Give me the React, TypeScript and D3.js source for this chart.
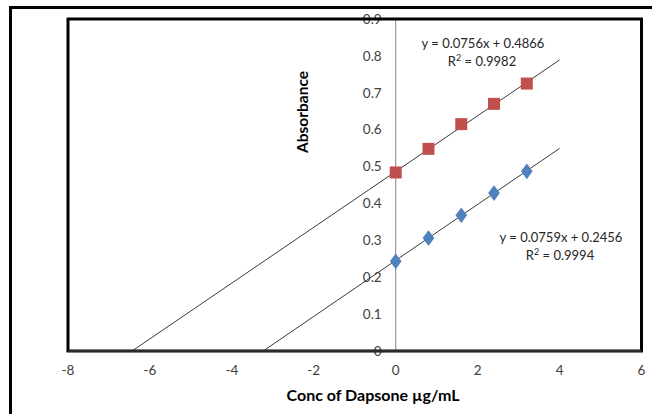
import React from "react";
import * as d3 from "d3";

const width = 652;
const height = 414;

// concentrations (µg/mL)
const conc = [0, 0.8, 1.6, 2.4, 3.2];
const seriesA = [0.484, 0.548, 0.615, 0.67, 0.725];
const seriesB = [0.243, 0.306, 0.368, 0.428, 0.487];

// trendline coefficients [slope, intercept], drawn from y = 0 to x = 4
const fitA = [0.0756, 0.4866];
const fitB = [0.0759, 0.2456];
const fitEnd = 4;

const xTicks = [-8, -6, -4, -2, 0, 2, 4, 6];
const yTicks = [0, 0.1, 0.2, 0.3, 0.4, 0.5, 0.6, 0.7, 0.8, 0.9];

const font = "Lato, 'Open Sans', sans-serif";

export default function App() {
  const x = d3.scaleLinear().domain([-8, 6]).range([68, 641.5]);
  const y = d3.scaleLinear().domain([0, 0.9]).range([351, 19]);

  const line = d3
    .line<[number, number]>()
    .x((d) => x(d[0]))
    .y((d) => y(d[1]));

  const trend = (fit: number[]): [number, number][] => {
    const x0 = -fit[1] / fit[0];
    return [
      [x0, 0],
      [fitEnd, fit[0] * fitEnd + fit[1]],
    ];
  };

  const diamond = d3.symbol().type(d3.symbolDiamond).size(70)();

  return (
    <svg
      width={width}
      height={height}
      style={{ position: "absolute", left: 0, top: 0, background: "#fff" }}
    >
      {/* y tick labels */}
      {yTicks.map((t) => (
        <text
          key={t}
          x={x(0) - 14}
          y={y(t)}
          dy="0.35em"
          textAnchor="end"
          fontFamily={font}
          fontSize={13.5}
          fill="#404040"
        >
          {t === 0 ? "0" : d3.format(".1f")(t)}
        </text>
      ))}
      {/* x tick labels */}
      {xTicks.map((t) => (
        <text
          key={t}
          x={x(t)}
          y={370}
          dy="0.35em"
          textAnchor="middle"
          fontFamily={font}
          fontSize={13.5}
          fill="#404040"
        >
          {t}
        </text>
      ))}

      {/* vertical axis at x = 0 */}
      <line x1={x(0)} x2={x(0)} y1={y(0.9)} y2={y(0)} stroke="#868686" strokeWidth={1} />

      {/* trendlines */}
      <path d={line(trend(fitA)) || ""} fill="none" stroke="#3a3a3a" strokeWidth={1} />
      <path d={line(trend(fitB)) || ""} fill="none" stroke="#3a3a3a" strokeWidth={1} />

      {/* markers */}
      {conc.map((c, i) => (
        <rect
          key={"a" + i}
          x={x(c) - 6}
          y={y(seriesA[i]) - 6}
          width={12}
          height={12}
          fill="#C0504D"
        />
      ))}
      {conc.map((c, i) => (
        <path
          key={"b" + i}
          d={diamond || ""}
          transform={`translate(${x(c)},${y(seriesB[i])}) scale(1.3,1)`}
          fill="#4F81BD"
        />
      ))}

      {/* equations */}
      <g fontFamily={font} fontSize={13} fill="#262626" textAnchor="middle">
        <text x={483} y={43} dy="0.35em">y = 0.0756x + 0.4866</text>
        <text x={482} y={61} dy="0.35em">
          R<tspan dy="-5" fontSize={9}>2</tspan>
          <tspan dy="5"> = 0.9982</tspan>
        </text>
        <text x={561} y={237} dy="0.35em">y = 0.0759x + 0.2456</text>
        <text x={560} y={255} dy="0.35em">
          R<tspan dy="-5" fontSize={9}>2</tspan>
          <tspan dy="5"> = 0.9994</tspan>
        </text>
      </g>

      {/* axis titles */}
      <text
        x={373}
        y={395}
        dy="0.35em"
        textAnchor="middle"
        fontFamily={font}
        fontWeight="bold"
        fontSize={16}
        fill="#000"
      >
        Conc of Dapsone µg/mL
      </text>
      <text
        transform="translate(303,112) rotate(-90)"
        dy="0.35em"
        textAnchor="middle"
        fontFamily={font}
        fontWeight="bold"
        fontSize={15.5}
        fill="#000"
      >
        Absorbance
      </text>

      {/* plot area border and x axis */}
      <rect
        x={x(-8)}
        y={y(0.9)}
        width={x(6) - x(-8)}
        height={y(0) - y(0.9)}
        fill="none"
        stroke="#000"
        strokeWidth={3}
      />
      <line x1={x(-8)} x2={x(6)} y1={y(0)} y2={y(0)} stroke="#555" strokeWidth={1} />

      {/* outer chart frame */}
      <rect x={10.5} y={7.5} width={700} height={500} fill="none" stroke="#000" strokeWidth={3} />
    </svg>
  );
}
